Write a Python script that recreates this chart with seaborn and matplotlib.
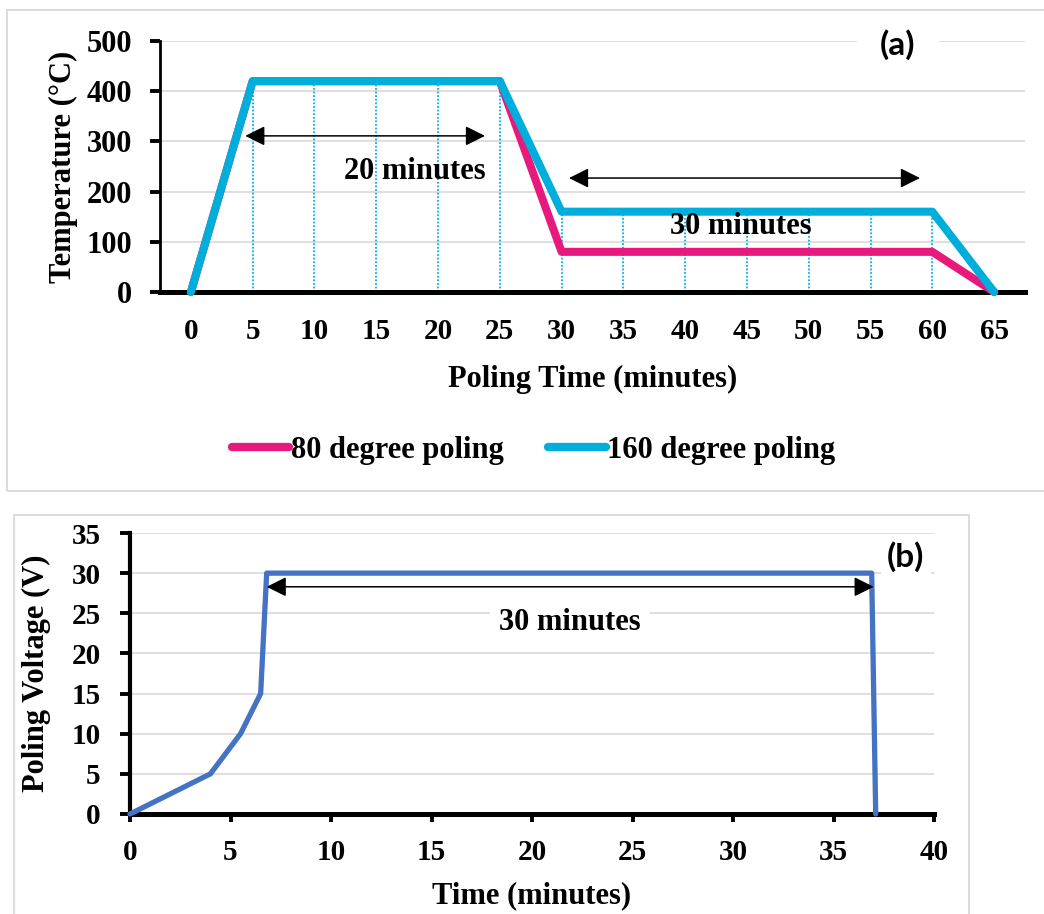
import matplotlib
matplotlib.use('Agg')
import matplotlib.pyplot as plt
from matplotlib.patches import Rectangle
import pandas as pd
import seaborn as sns

# (a) temperature profile, one point per 5 min category
poling_time = [0, 5, 10, 15, 20, 25, 30, 35, 40, 45, 50, 55, 60, 65]
temp_80 = [0, 420, 420, 420, 420, 420, 80, 80, 80, 80, 80, 80, 80, 0]
temp_160 = [0, 420, 420, 420, 420, 420, 160, 160, 160, 160, 160, 160, 160, 0]
series_names = ['80 degree poling', '160 degree poling']
series_colors = ['#E8197C', '#00AEDC']

# (b) poling voltage
volt_time = [0, 4, 5.5, 6.5, 6.8, 36.9, 37.1]
volt = [0, 5, 10, 15, 30, 30, 0]

sns.set_style('white')
plt.rcParams['font.family'] = ['Liberation Serif', 'DejaVu Serif']
plt.rcParams['font.weight'] = 'bold'
plt.rcParams['axes.labelweight'] = 'bold'
for k in ['text.color', 'axes.labelcolor', 'xtick.color', 'ytick.color', 'axes.edgecolor']:
    plt.rcParams[k] = 'black'

grid_col = '#D9D9D9'
label_font = ['Lato', 'DejaVu Sans']

df_a = pd.DataFrame({
    'time': poling_time * 2,
    'temp': temp_80 + temp_160,
    'series': [series_names[0]] * len(poling_time) + [series_names[1]] * len(poling_time),
})
df_b = pd.DataFrame({'time': volt_time, 'volt': volt})

fig = plt.figure(figsize=(10.44, 9.14), dpi=100)

# panel borders
fig.add_artist(Rectangle((7 / 1044, 1 - 491 / 914), 1.05, (491 - 10) / 914,
                         transform=fig.transFigure, fill=False, ec=grid_col, lw=1.3))
fig.add_artist(Rectangle((14 / 1044, -0.05), (969 - 14) / 1044, 1 - 515 / 914 + 0.05,
                         transform=fig.transFigure, fill=False, ec=grid_col, lw=1.3))

# ---- (a) ----
ax1 = fig.add_axes([160 / 1044, 1 - 292 / 914, 865 / 1044, 251 / 914])
ax1.set_axisbelow(True)
ax1.yaxis.grid(True, color=grid_col, lw=1.2)

# drop lines from the upper series down to the axis
for t, v in zip(poling_time, temp_160):
    if v > 0:
        ax1.vlines(t, 0, v, colors='#00B0F0', linestyles=(0, (1, 1)), lw=1.3, zorder=1)

sns.lineplot(data=df_a, x='time', y='temp', hue='series', hue_order=series_names,
             palette=series_colors, lw=5.8, estimator=None, sort=False,
             solid_capstyle='round', solid_joinstyle='round', ax=ax1, zorder=3, clip_on=False)

ax1.set_xlim(-2.5, 67.5)
ax1.set_ylim(0, 500)
ax1.set_xticks(poling_time)
ax1.set_yticks(range(0, 501, 100))
ax1.spines[['top', 'right']].set_visible(False)
ax1.spines['left'].set_linewidth(2)
ax1.spines['bottom'].set_linewidth(3.6)
ax1.spines['bottom'].set_zorder(2)
ax1.tick_params(axis='y', left=True, direction='out', length=7, width=2.8, pad=13, labelsize=22)
ax1.tick_params(axis='x', bottom=False, length=0, pad=19, labelsize=21)
ax1.set_xlabel('Poling Time (minutes)', fontsize=22, labelpad=14)
ax1.set_ylabel('Temperature (°C)', fontsize=22, labelpad=6)

arrow = dict(arrowstyle='<|-|>,head_length=0.6,head_width=0.3', lw=1.1, color='black',
             mutation_scale=20, shrinkA=0, shrinkB=0)
ax1.annotate('', xy=(4.4, 311), xytext=(23.8, 311), arrowprops=arrow)
ax1.text(18.1, 241, '20 minutes', fontsize=22, ha='center', va='center')
ax1.annotate('', xy=(30.6, 227), xytext=(59.0, 227), arrowprops=arrow)
ax1.text(44.5, 131, '30 minutes', fontsize=22, ha='center', va='center')
ax1.text(57.2, 492, '(a)', fontsize=24, ha='center', va='center', family=label_font,
         fontweight='bold', bbox=dict(fc='white', ec='none', boxstyle='square,pad=0.7'))

sns.move_legend(ax1, 'center', bbox_to_anchor=(0.432, -0.63), ncol=2, frameon=False,
                title=None, fontsize=22, handlelength=1.87, handletextpad=0.05,
                columnspacing=1.47)
for h in ax1.get_legend().get_lines():
    h.set_linewidth(6)
    h.set_solid_capstyle('round')

# ---- (b) ----
ax2 = fig.add_axes([130 / 1044, 1 - 814 / 914, 804 / 1044, 281 / 914])
ax2.set_axisbelow(True)
ax2.yaxis.grid(True, color=grid_col, lw=1.2)
sns.lineplot(data=df_b, x='time', y='volt', color='#4472C4', lw=3.8, estimator=None,
             sort=False, solid_joinstyle='round', ax=ax2, zorder=3, clip_on=False)
ax2.set_xlim(0, 40)
ax2.set_ylim(0, 35)
ax2.set_xticks(range(0, 41, 5))
ax2.set_yticks(range(0, 36, 5))
ax2.spines[['top', 'right']].set_visible(False)
ax2.spines['left'].set_linewidth(3)
ax2.spines['bottom'].set_linewidth(3.6)
ax2.tick_params(axis='y', left=True, direction='out', length=7, width=2.8, pad=14, labelsize=21)
ax2.tick_params(axis='x', bottom=True, direction='out', length=6, width=2.8, pad=12, labelsize=21)
ax2.set_xlabel('Time (minutes)', fontsize=22, labelpad=11)
ax2.set_ylabel('Poling Voltage (V)', fontsize=22, labelpad=15)

ax2.annotate('', xy=(6.8, 28.3), xytext=(37.0, 28.3), arrowprops=arrow)
ax2.text(21.9, 23.9, '30 minutes', fontsize=22, ha='center', va='center',
         bbox=dict(fc='white', ec='none', boxstyle='square,pad=0.3'))
ax2.text(38.6, 32.0, '(b)', fontsize=24, ha='center', va='center', family=label_font,
         fontweight='bold', bbox=dict(fc='white', ec='none', boxstyle='square,pad=0.2'))

fig.savefig('out.png', dpi=100)
